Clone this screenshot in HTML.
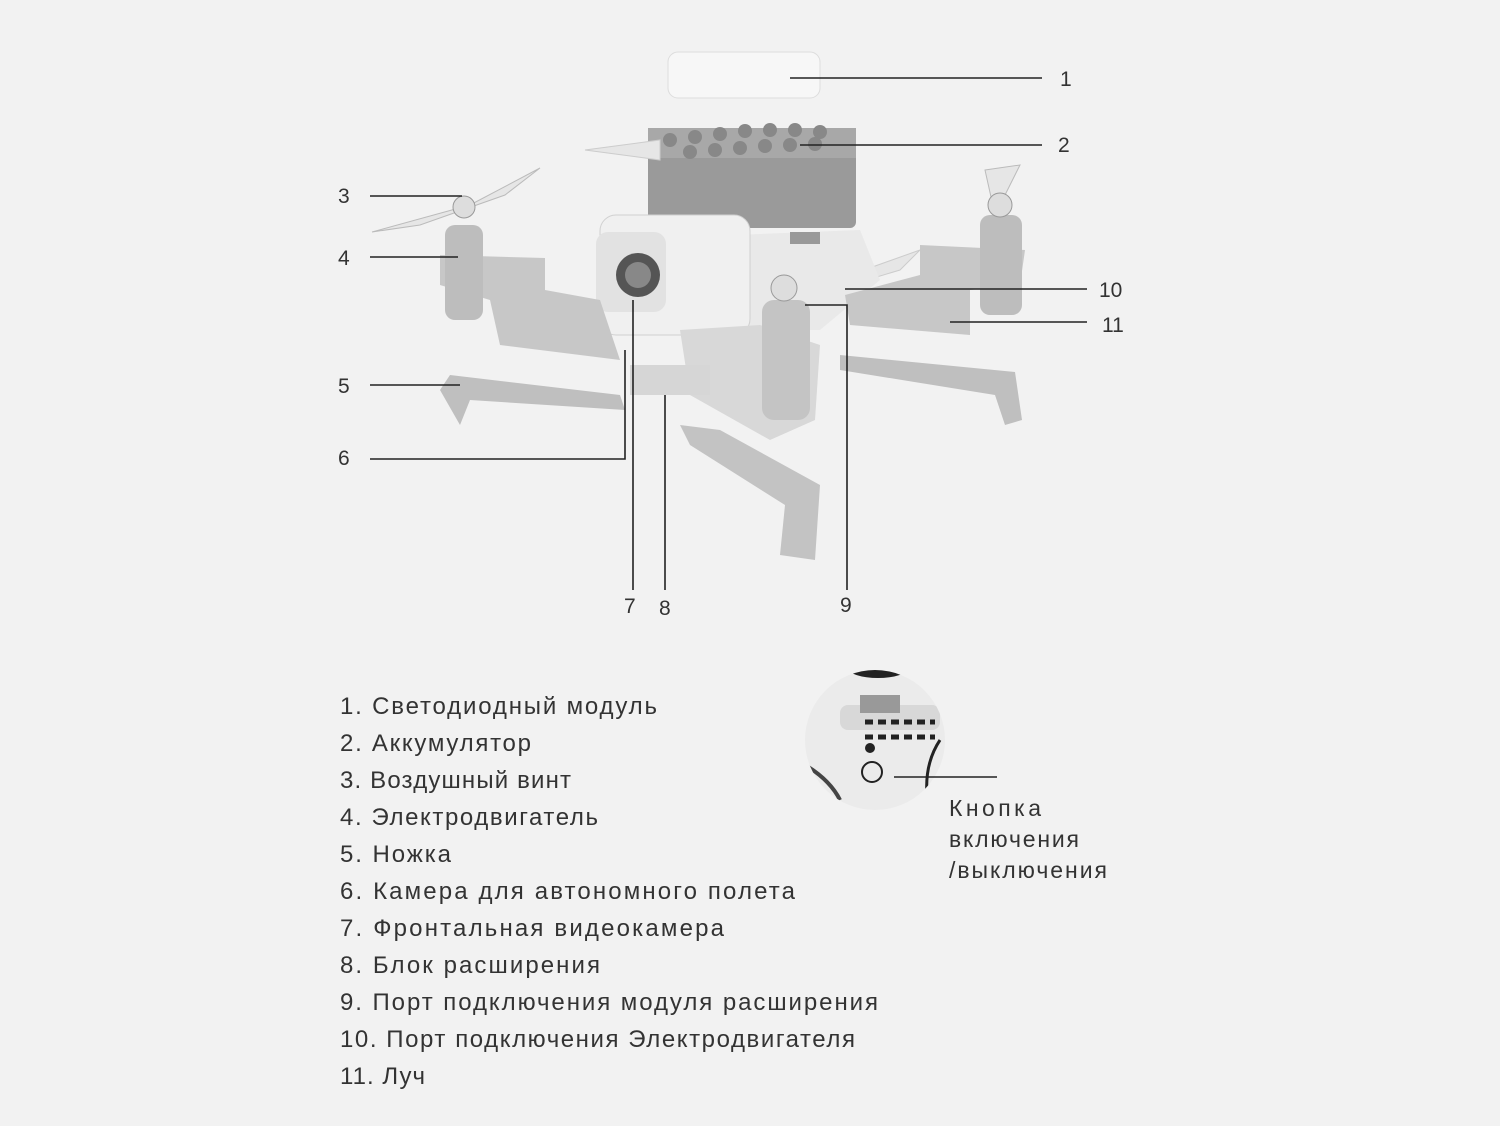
<!DOCTYPE html>
<html><head><meta charset="utf-8"><style>
body{margin:0;background:#f2f2f2;}
svg{display:block}
text{font-family:"Liberation Sans",sans-serif;fill:#333}
</style></head><body>
<svg width="1500" height="1126" viewBox="0 0 1500 1126" xmlns="http://www.w3.org/2000/svg">
<rect width="1500" height="1126" fill="#f2f2f2"/>
<rect x="668" y="52" width="152" height="46" rx="10" fill="#f7f7f7" stroke="#ddd"/>
<rect x="648" y="128" width="208" height="100" rx="6" fill="#9a9a9a"/>
<rect x="648" y="128" width="208" height="30" fill="#a8a8a8"/>
<g fill="#888">
<circle cx="670" cy="140" r="7"/><circle cx="695" cy="137" r="7"/><circle cx="720" cy="134" r="7"/><circle cx="745" cy="131" r="7"/><circle cx="770" cy="130" r="7"/><circle cx="795" cy="130" r="7"/><circle cx="820" cy="132" r="7"/>
<circle cx="690" cy="152" r="7"/><circle cx="715" cy="150" r="7"/><circle cx="740" cy="148" r="7"/><circle cx="765" cy="146" r="7"/><circle cx="790" cy="145" r="7"/><circle cx="815" cy="144" r="7"/>
</g>
<path d="M372 232 L470 205 L540 168 L505 195 L420 225 Z" fill="#e6e6e6" stroke="#bbb"/>
<path d="M585 150 L660 140 L660 160 Z" fill="#e6e6e6" stroke="#ccc"/>
<path d="M985 170 L1020 165 L995 215 Z" fill="#e6e6e6" stroke="#bbb"/>
<path d="M780 300 L920 250 L900 270 L800 300 Z" fill="#e6e6e6" stroke="#ccc"/>
<path d="M610 240 L860 230 L880 280 L820 330 L620 330 Z" fill="#e9e9e9"/>
<rect x="600" y="215" width="150" height="120" rx="16" fill="#f0f0f0" stroke="#d0d0d0"/>
<rect x="596" y="232" width="70" height="80" rx="12" fill="#e2e2e2"/>
<circle cx="638" cy="275" r="22" fill="#555"/><circle cx="638" cy="275" r="13" fill="#888"/>
<rect x="790" y="232" width="30" height="12" fill="#999"/>
<path d="M440 255 L545 258 L545 290 L600 300 L620 360 L500 345 L490 300 L440 285 Z" fill="#c7c7c7"/>
<path d="M920 245 L1025 250 L1020 285 L970 290 L970 335 L850 325 L845 295 L920 275 Z" fill="#c7c7c7"/>
<path d="M680 330 L760 325 L820 345 L815 420 L770 440 L690 395 Z" fill="#d8d8d8"/>
<rect x="630" y="365" width="80" height="30" fill="#d6d6d6"/>
<rect x="445" y="225" width="38" height="95" rx="10" fill="#bdbdbd"/>
<rect x="980" y="215" width="42" height="100" rx="10" fill="#bdbdbd"/>
<rect x="762" y="300" width="48" height="120" rx="12" fill="#c4c4c4"/>
<circle cx="464" cy="207" r="11" fill="#ddd" stroke="#999"/>
<circle cx="1000" cy="205" r="12" fill="#ddd" stroke="#999"/>
<circle cx="784" cy="288" r="13" fill="#ddd" stroke="#999"/>
<path d="M450 375 L620 395 L625 410 L470 400 L460 425 L440 390 Z" fill="#bfbfbf"/>
<path d="M840 355 L1015 372 L1022 420 L1005 425 L995 395 L840 370 Z" fill="#bfbfbf"/>
<path d="M680 425 L720 430 L820 485 L815 560 L780 555 L785 505 L690 445 Z" fill="#c3c3c3"/>
<g stroke="#222" stroke-width="1.6" fill="none">
<line x1="790" y1="78" x2="1042" y2="78"/>
<line x1="800" y1="145" x2="1042" y2="145"/>
<line x1="370" y1="196" x2="462" y2="196"/>
<line x1="370" y1="257" x2="458" y2="257"/>
<line x1="370" y1="385" x2="460" y2="385"/>
<polyline points="370,459 625,459 625,350"/>
<line x1="633" y1="300" x2="633" y2="590"/>
<line x1="665" y1="395" x2="665" y2="590"/>
<polyline points="805,305 847,305 847,590"/>
<line x1="845" y1="289" x2="1087" y2="289"/>
<line x1="950" y1="322" x2="1087" y2="322"/>
</g>
<g font-size="21">
<text x="1060" y="86">1</text><text x="1058" y="152">2</text>
<text x="338" y="203">3</text><text x="338" y="265">4</text>
<text x="338" y="393">5</text><text x="338" y="465">6</text>
<text x="624" y="613">7</text><text x="659" y="615">8</text><text x="840" y="612">9</text>
<text x="1099" y="297">10</text><text x="1102" y="332">11</text>
</g>
<defs><clipPath id="c"><circle cx="875" cy="740" r="70"/></clipPath></defs>
<g clip-path="url(#c)">
<rect x="800" y="665" width="150" height="150" fill="#ebebeb"/>
<rect x="840" y="705" width="100" height="25" rx="8" fill="#d8d8d8"/>
<rect x="860" y="695" width="40" height="18" fill="#999"/>
<path d="M865 722 h70 M865 737 h70" stroke="#222" stroke-width="5" stroke-dasharray="8 5"/>
<circle cx="870" cy="748" r="5" fill="#222"/>
<circle cx="872" cy="772" r="10" fill="none" stroke="#222" stroke-width="2"/>
<path d="M940 740 Q920 770 930 815" stroke="#222" stroke-width="3" fill="none"/>
<path d="M805 765 Q830 780 840 800" stroke="#444" stroke-width="4" fill="none"/>
<ellipse cx="878" cy="668" rx="30" ry="10" fill="#222"/>
</g>
<line x1="894" y1="777" x2="997" y2="777" stroke="#222" stroke-width="1.6"/>
<g font-size="23" lengthAdjust="spacing">
<text x="949" y="816" textLength="92">Кнопка</text>
<text x="949" y="847" textLength="130">включения</text>
<text x="949" y="878" textLength="158">/выключения</text>
</g>
<g font-size="24">
<text x="340" y="714" textLength="317">1. Светодиодный модуль</text>
<text x="340" y="751" textLength="191">2. Аккумулятор</text>
<text x="340" y="788" textLength="231">3. Воздушный винт</text>
<text x="340" y="825" textLength="258">4. Электродвигатель</text>
<text x="340" y="862" textLength="111">5. Ножка</text>
<text x="340" y="899" textLength="455">6. Камера для автономного полета</text>
<text x="340" y="936" textLength="384">7. Фронтальная видеокамера</text>
<text x="340" y="973" textLength="260">8. Блок расширения</text>
<text x="340" y="1010" textLength="538">9. Порт подключения модуля расширения</text>
<text x="340" y="1047" textLength="515">10. Порт подключения Электродвигателя</text>
<text x="340" y="1084" textLength="85">11. Луч</text>
</g>
</svg>
</body></html>
